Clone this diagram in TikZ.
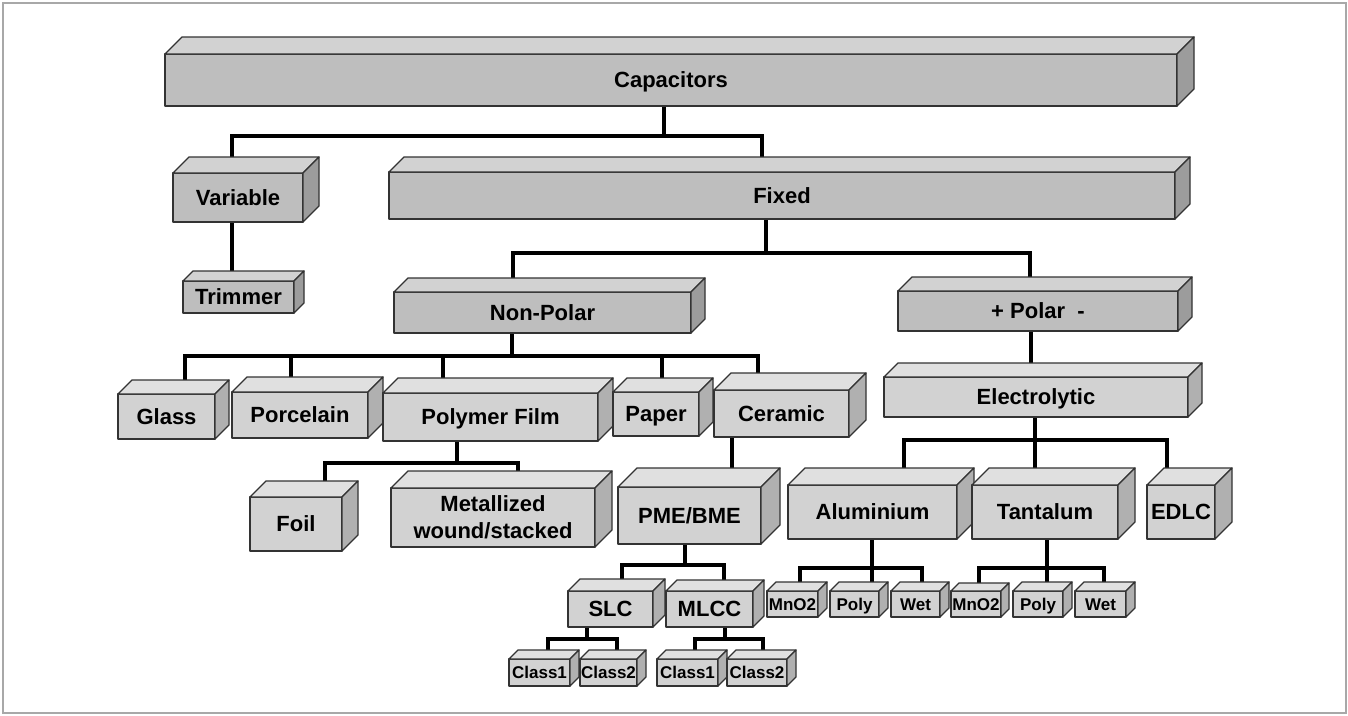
\documentclass[tikz,border=0pt]{standalone}
\usepackage{fontspec}
\setmainfont{Liberation Sans}
\usetikzlibrary{backgrounds}
\definecolor{dfront}{HTML}{BEBEBE}
\definecolor{dtop}{HTML}{D2D2D2}
\definecolor{dside}{HTML}{9C9C9C}
\definecolor{lfront}{HTML}{D2D2D2}
\definecolor{ltop}{HTML}{E0E0E0}
\definecolor{lside}{HTML}{B0B0B0}
\definecolor{edgec}{HTML}{333333}
\definecolor{framec}{HTML}{A8A8A8}
\tikzset{
  boxedge/.style={draw=edgec, line width=1.3pt, line join=round},
  bigtxt/.style={font=\fontsize{22}{26}\selectfont\bfseries, text height=15.8pt, text depth=0pt},
  smalltxt/.style={font=\fontsize{17}{20}\selectfont\bfseries, text height=12.2pt, text depth=0pt},
  twotxt/.style={font=\fontsize{22}{27}\selectfont\bfseries, align=center},
  conn/.style={line width=4.6pt, black, line join=miter}
}
% #1 colour prefix, #2 text style, #3 name, #4 x1, #5 y1, #6 x2, #7 y2, #8 depth, #9 text
\newcommand\cbx[9]{%
  \node[boxedge, fill=#1front, #2, inner sep=0pt, outer sep=0pt,
        minimum width={(#6-#4)*1pt}, minimum height={(#7-#5)*1pt},
        anchor=north west] (#3) at (#4,#5) {#9};
  \filldraw[boxedge, fill=#1top] (#3.north west) -- ++(#8,-#8)
     -- ([shift={(#8,-#8)}]#3.north east) -- (#3.north east) -- cycle;
  \filldraw[boxedge, fill=#1side] (#3.north east) -- ++(#8,-#8)
     -- ([shift={(#8,-#8)}]#3.south east) -- (#3.south east) -- cycle;
}
\begin{document}
\begin{tikzpicture}[x=1pt,y=-1pt]
\useasboundingbox (0,0) rectangle (1348,715);
\begin{scope}[on background layer]
  \fill[white] (0,0) rectangle (1348,715);
  \draw[framec, line width=1.6pt] (3,3) rectangle (1346,713);
\end{scope}

% dark boxes
\cbx{d}{bigtxt}{cap}{165}{54}{1177}{106}{17}{Capacitors}
\cbx{d}{bigtxt}{var}{173}{173}{303}{222}{16}{Variable}
\cbx{d}{bigtxt}{fix}{389}{172}{1175}{219}{15}{Fixed}
\cbx{d}{bigtxt}{trim}{183}{281}{294}{313}{10}{Trimmer}
\cbx{d}{bigtxt}{np}{394}{292}{691}{333}{14}{Non-Polar}
\cbx{d}{bigtxt}{pol}{898}{291}{1178}{331}{14}{+ Polar~~-}

% light boxes
\cbx{l}{bigtxt}{elec}{884}{377}{1188}{417}{14}{Electrolytic}
\cbx{l}{bigtxt}{glass}{118}{394}{215}{439}{14}{Glass}
\cbx{l}{bigtxt}{porc}{232}{392}{368}{438}{15}{Porcelain}
\cbx{l}{bigtxt}{poly}{383}{393}{598}{441}{15}{Polymer Film}
\cbx{l}{bigtxt}{paper}{613}{392}{699}{436}{14}{Paper}
\cbx{l}{bigtxt}{cer}{714}{390}{849}{437}{17}{Ceramic}
\cbx{l}{bigtxt}{foil}{250}{497}{342}{551}{16}{Foil}
\cbx{l}{twotxt}{met}{391}{488}{595}{547}{17}{Metallized\\wound/stacked}
\cbx{l}{bigtxt}{pme}{618}{487}{761}{544}{19}{PME/BME}
\cbx{l}{bigtxt}{slc}{568}{591}{653}{627}{12}{SLC}
\cbx{l}{bigtxt}{mlcc}{666}{591}{753}{627}{11}{MLCC}
\cbx{l}{smalltxt}{c1a}{509}{659}{570}{686}{9}{Class1}
\cbx{l}{smalltxt}{c2a}{580}{659}{637}{686}{9}{Class2}
\cbx{l}{smalltxt}{c1b}{657}{659}{718}{686}{9}{Class1}
\cbx{l}{smalltxt}{c2b}{727}{659}{787}{686}{9}{Class2}
\cbx{l}{bigtxt}{alu}{788}{485}{957}{539}{17}{Aluminium}
\cbx{l}{bigtxt}{tan}{972}{485}{1118}{539}{17}{Tantalum}
\cbx{l}{bigtxt}{edlc}{1147}{485}{1215}{539}{17}{EDLC}
\cbx{l}{smalltxt}{mna}{767}{591}{818}{617}{9}{MnO2}
\cbx{l}{smalltxt}{poa}{830}{591}{879}{617}{9}{Poly}
\cbx{l}{smalltxt}{wea}{891}{591}{940}{617}{9}{Wet}
\cbx{l}{smalltxt}{mnb}{951}{591}{1001}{617}{8}{MnO2}
\cbx{l}{smalltxt}{pob}{1013}{591}{1063}{617}{9}{Poly}
\cbx{l}{smalltxt}{web}{1075}{591}{1126}{617}{9}{Wet}

\begin{scope}[on background layer]
  \draw[conn] (cap.south -| 664,0) -- (664,136) -| (var.north -| 232,0);
  \draw[conn] (cap.south -| 664,0) -- (664,136) -| (fix.north -| 762,0);
  \draw[conn] (var.south -| 232,0) -- (trim.north -| 232,0);
  \draw[conn] (fix.south -| 766,0) -- (766,253) -| (np.north -| 513,0);
  \draw[conn] (fix.south -| 766,0) -- (766,253) -| (pol.north -| 1030,0);
  \draw[conn] (np.south -| 512,0) -- (512,356) -| (glass.north -| 185,0);
  \draw[conn] (np.south -| 512,0) -- (512,356) -| (porc.north -| 291,0);
  \draw[conn] (np.south -| 512,0) -- (512,356) -| (poly.north -| 443,0);
  \draw[conn] (np.south -| 512,0) -- (512,356) -| (paper.north -| 662,0);
  \draw[conn] (np.south -| 512,0) -- (512,356) -| (cer.north -| 758,0);
  \draw[conn] (pol.south -| 1031,0) -- (elec.north -| 1031,0);
  \draw[conn] (elec.south -| 1035,0) -- (1035,440) -| (alu.north -| 904,0);
  \draw[conn] (elec.south -| 1035,0) -- (tan.north -| 1035,0);
  \draw[conn] (elec.south -| 1035,0) -- (1035,440) -| (edlc.north -| 1167,0);
  \draw[conn] (poly.south -| 457,0) -- (457,463) -| (foil.north -| 325,0);
  \draw[conn] (poly.south -| 457,0) -- (457,463) -| (met.north -| 518,0);
  \draw[conn] (cer.south -| 732,0) -- (pme.north -| 732,0);
  \draw[conn] (pme.south -| 685,0) -- (685,565) -| (slc.north -| 622,0);
  \draw[conn] (pme.south -| 685,0) -- (685,565) -| (mlcc.north -| 724,0);
  \draw[conn] (slc.south -| 587,0) -- (587,639) -| (c1a.north -| 548,0);
  \draw[conn] (slc.south -| 587,0) -- (587,639) -| (c2a.north -| 617,0);
  \draw[conn] (mlcc.south -| 725,0) -- (725,639) -| (c1b.north -| 695,0);
  \draw[conn] (mlcc.south -| 725,0) -- (725,639) -| (c2b.north -| 763,0);
  \draw[conn] (alu.south -| 872,0) -- (872,568) -| (mna.north -| 800,0);
  \draw[conn] (alu.south -| 872,0) -- (poa.north -| 872,0);
  \draw[conn] (alu.south -| 872,0) -- (872,568) -| (wea.north -| 922,0);
  \draw[conn] (tan.south -| 1047,0) -- (1047,568) -| (mnb.north -| 979,0);
  \draw[conn] (tan.south -| 1047,0) -- (pob.north -| 1047,0);
  \draw[conn] (tan.south -| 1047,0) -- (1047,568) -| (web.north -| 1104,0);
\end{scope}
\end{tikzpicture}
\end{document}
